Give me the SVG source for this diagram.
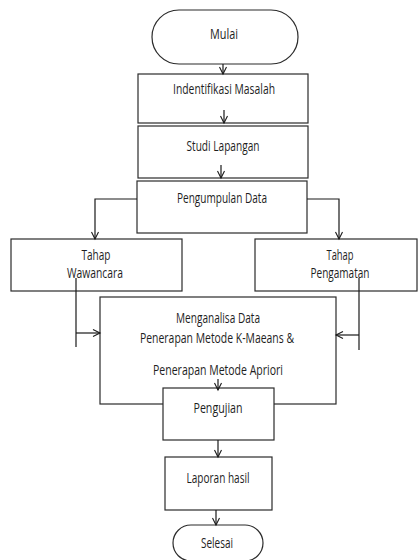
<svg xmlns="http://www.w3.org/2000/svg" width="419" height="560" viewBox="0 0 419 560">
<style>
.box{fill:#fff;stroke:#2b2b2b;stroke-width:1.2}
.t{font-family:"Open Sans","Liberation Sans",sans-serif;font-size:14px;fill:#1e1e1e;text-anchor:middle}
.c{fill:none;stroke:#1a1a1a;stroke-width:1.2}
.a{fill:none;stroke:#1a1a1a;stroke-width:1.2;marker-end:url(#arr)}
</style>
<defs>
<marker id="arr" markerUnits="userSpaceOnUse" markerWidth="10" markerHeight="10" refX="8" refY="4" orient="auto">
<path d="M1,0.5 L8,4 L1,7.5" fill="none" stroke="#1a1a1a" stroke-width="1.1"/>
</marker>
</defs>
<g id="mulai"><rect class="box" x="152" y="10" width="146" height="54" rx="27"/><text class="t" x="224" y="39" textLength="28" lengthAdjust="spacingAndGlyphs">Mulai</text></g>
<g id="identifikasi"><rect class="box" x="138" y="74" width="170" height="49"/><text class="t" x="224" y="94" textLength="102" lengthAdjust="spacingAndGlyphs">Indentifikasi Masalah</text></g>
<g id="studi"><rect class="box" x="138" y="126" width="170" height="52"/><text class="t" x="223" y="151" textLength="73" lengthAdjust="spacingAndGlyphs">Studi Lapangan</text></g>
<g id="pengumpulan"><rect class="box" x="137" y="181" width="170" height="52"/><text class="t" x="222" y="203" textLength="90" lengthAdjust="spacingAndGlyphs">Pengumpulan Data</text></g>
<g id="wawancara"><rect class="box" x="11" y="239" width="171" height="52"/><text class="t" x="96" y="260" textLength="29" lengthAdjust="spacingAndGlyphs">Tahap</text><text class="t" x="95" y="278" textLength="56" lengthAdjust="spacingAndGlyphs">Wawancara</text></g>
<g id="pengamatan"><rect class="box" x="255" y="239" width="162" height="52"/><text class="t" x="340" y="260" textLength="27" lengthAdjust="spacingAndGlyphs">Tahap</text><text class="t" x="340" y="278" textLength="59" lengthAdjust="spacingAndGlyphs">Pengamatan</text></g>
<g id="menganalisa"><rect class="box" x="100" y="297" width="236" height="107"/><text class="t" x="218" y="323" textLength="84" lengthAdjust="spacingAndGlyphs">Menganalisa Data</text><text class="t" x="217" y="343" textLength="154" lengthAdjust="spacingAndGlyphs">Penerapan Metode K-Maeans &amp;</text><text class="t" x="218" y="375" textLength="130" lengthAdjust="spacingAndGlyphs">Penerapan Metode Apriori</text></g>
<g id="pengujian"><rect class="box" x="163" y="388" width="111" height="52"/><text class="t" x="218" y="413" textLength="49" lengthAdjust="spacingAndGlyphs">Pengujian</text></g>
<g id="laporan"><rect class="box" x="165" y="457" width="107" height="53"/><text class="t" x="218" y="483" textLength="63" lengthAdjust="spacingAndGlyphs">Laporan hasil</text></g>
<g id="selesai"><rect class="box" x="173" y="525" width="90" height="36" rx="18"/><text class="t" x="217" y="548" textLength="32" lengthAdjust="spacingAndGlyphs">Selesai</text></g>
<g id="connectors">
<path class="a" d="M223,64 V74"/>
<path class="a" d="M224,110 V123"/>
<path class="a" d="M221,165 V178"/>
<path class="a" d="M137,199 H95 V239"/>
<path class="a" d="M307,199 H339 V239"/>
<path class="c" d="M76,278 V347"/>
<path class="a" d="M76,333 H100"/>
<path class="c" d="M359,278 V350"/>
<path class="a" d="M359,335 H336"/>
<path class="a" d="M218,379 V390"/>
<path class="a" d="M218,440 V457"/>
<path class="a" d="M216,510 V525"/>
</g>
</svg>
